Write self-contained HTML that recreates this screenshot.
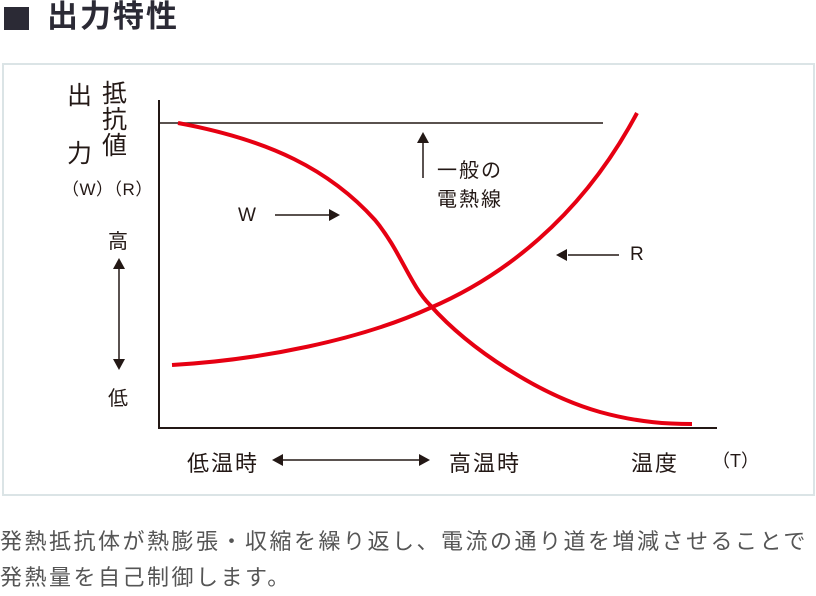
<!DOCTYPE html>
<html><head><meta charset="utf-8"><style>
body{margin:0;width:816px;height:592px;background:#fff;overflow:hidden;font-family:"Liberation Sans","Noto Sans CJK JP",sans-serif;color:#231815}
.t{position:absolute;white-space:nowrap}
</style></head><body>
<div class="t" style="left:4px;top:7px;width:25px;height:23px;background:#2b2a35"></div>
<div class="t" style="left:47px;top:-2px;font-size:31px;letter-spacing:2px;font-weight:bold;color:#2b2a35;line-height:38px">出力特性</div>
<div class="t" style="left:2px;top:63px;width:809px;height:429px;border:2px solid #dbe4e6"></div>
<svg class="t" style="left:0;top:0" width="816" height="592">
<g stroke="#231815" fill="none">
<line x1="159" y1="100" x2="159" y2="429" stroke-width="2"/>
<line x1="158" y1="428" x2="717" y2="428" stroke-width="2"/>
<line x1="159" y1="123" x2="603" y2="123" stroke-width="1.5"/>
<line x1="423" y1="178" x2="423" y2="140" stroke-width="1.5"/>
<line x1="275" y1="215" x2="330" y2="215" stroke-width="1.5"/>
<line x1="568" y1="255" x2="619" y2="255" stroke-width="1.5"/>
<line x1="119" y1="268" x2="119" y2="360" stroke-width="1.5"/>
<line x1="282" y1="460" x2="420" y2="460" stroke-width="1.5"/>
</g>
<g fill="#231815">
<polygon points="423,132 417,143 429,143"/>
<polygon points="340,215 329,209 329,221"/>
<polygon points="556,255 567,249 567,261"/>
<polygon points="119,258 113,269 125,269"/>
<polygon points="119,370 113,359 125,359"/>
<polygon points="272,460 283,454 283,466"/>
<polygon points="430,460 419,454 419,466"/>
</g>
<g stroke="#e60012" stroke-width="4" fill="none">
<path d="M178,123 C270,140 330,170 375,220 C400,250 410,285 430,305 C470,350 540,395 600,412 C640,423 670,424 692,424"/>
<path d="M172,365 C260,360 360,340 430,308 C500,278 580,220 637,113"/>
</g>
</svg>
<div class="t" style="left:67px;top:81px;font-size:25px;line-height:30px">出</div>
<div class="t" style="left:67px;top:134px;font-size:25px">力</div>
<div class="t" style="left:102px;top:81px;font-size:25px;line-height:26px;width:27px;white-space:normal">抵抗値</div>
<div class="t" style="left:62px;top:175px;font-size:17px;letter-spacing:0.5px">（W）（R）</div>
<div class="t" style="left:108px;top:225px;font-size:20px">高</div>
<div class="t" style="left:108px;top:382px;font-size:20px">低</div>
<div class="t" style="left:238px;top:205px;font-size:19px">W</div>
<div class="t" style="left:437px;top:157px;font-size:20px;letter-spacing:2px;line-height:29px">一般の<br>電熱線</div>
<div class="t" style="left:630px;top:244px;font-size:19px">R</div>
<div class="t" style="left:187px;top:446px;font-size:22px;letter-spacing:2px">低温時</div>
<div class="t" style="left:449px;top:446px;font-size:22px;letter-spacing:2px">高温時</div>
<div class="t" style="left:631px;top:446px;font-size:22px;letter-spacing:2px">温度</div>
<div class="t" style="left:712px;top:447px;font-size:18px">（T）</div>
<div class="t" style="left:0px;top:524px;font-size:22px;letter-spacing:2.5px;color:#555;line-height:36px">発熱抵抗体が熱膨張・収縮を繰り返し、電流の通り道を増減させることで<br>発熱量を自己制御します。</div>
</body></html>
